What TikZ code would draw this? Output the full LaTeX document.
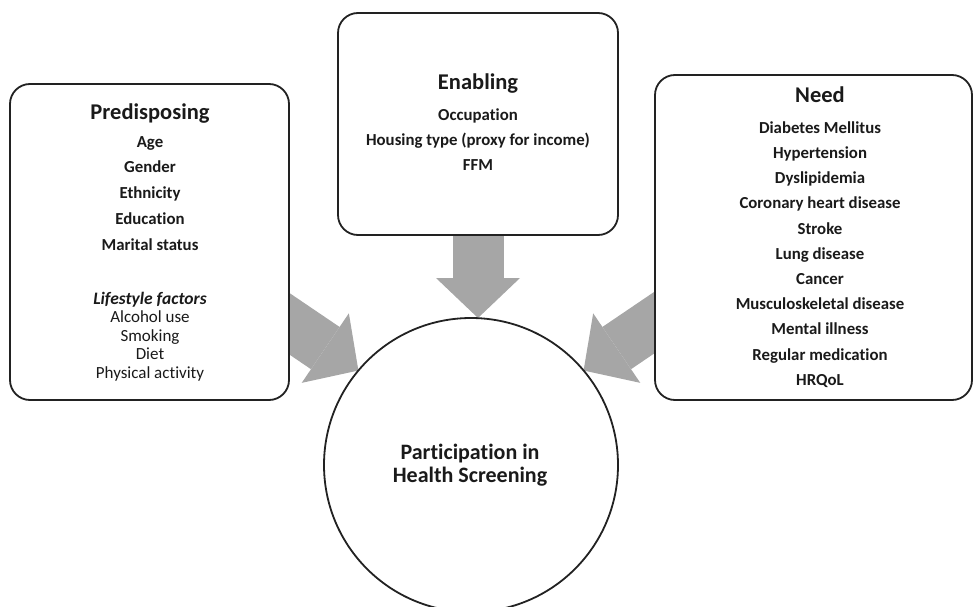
\documentclass[tikz,border=0pt]{standalone}
\usepackage{fontspec}
\setmainfont{Carlito}[Ligatures=NoCommon]
\usetikzlibrary{arrows.meta,backgrounds}
\definecolor{boxline}{HTML}{222222}
\definecolor{arrowgray}{HTML}{A6A6A6}
\definecolor{txt}{HTML}{1A1A1A}
\begin{document}
\begin{tikzpicture}[x=1pt,y=-1pt,
  box/.style={draw=boxline, line width=1.8pt, fill=white, rounded corners=20pt, inner sep=0pt, outer sep=0pt},
  circbox/.style={draw=boxline, line width=1.8pt, fill=white, circle, inner sep=0pt, outer sep=0pt},
  title/.style={anchor=base, inner sep=0pt, font=\fontsize{22.5}{26}\selectfont\bfseries, text=txt},
  item/.style={anchor=base, inner sep=0pt, font=\fontsize{16.8}{20}\selectfont\bfseries, text=txt},
  litem/.style={anchor=base, inner sep=0pt, font=\fontsize{17}{20}\selectfont, text=txt},
  ctext/.style={anchor=base, inner sep=0pt, font=\fontsize{22}{26}\selectfont\bfseries, text=txt},
  bigarrow/.style={line width=51pt, draw=arrowgray, -{Triangle[width=84pt,length=40pt,line width=0pt]}},
]
\useasboundingbox (0,0) rectangle (974,607);

% boxes
\node[box, minimum width=279pt, minimum height=316pt] (pre) at (149.5,242) {};
\node[box, minimum width=280pt, minimum height=222pt] (ena) at (478,124) {};
\node[box, minimum width=317pt, minimum height=325pt] (need) at (813.5,237.5) {};
\node[circbox, minimum size=294pt] (circ) at (471,465) {};

% arrows (behind)
\coordinate (lstart) at (240,290.3);
\coordinate (rstart) at (702,290.3);
\begin{pgfonlayer}{background}
  \draw[bigarrow] (lstart) -- (circ.140);
  \draw[bigarrow] (rstart) -- (circ.40);
  \draw[bigarrow] ([yshift=5pt]ena.south) -- (ena.south |- circ.north);
\end{pgfonlayer}

% predisposing text
\node[title] (pretitle) at (150,120) {Predisposing};
\foreach \t/\y [count=\i] in {Age/147, Gender/172.7, Ethnicity/198.5, Education/224.2, Marital status/250}
  \node[item] (preitem\i) at (150,\y) {\t};
\node[item, font=\fontsize{17.5}{20}\selectfont\bfseries\itshape] (lifetitle) at (150,304) {Lifestyle factors};
\foreach \t/\y [count=\i] in {Alcohol use/322.7, Smoking/341.5, Diet/359.5, Physical activity/378}
  \node[litem] (lifeitem\i) at (150,\y) {\t};

% enabling text
\node[title] (enatitle) at (478,90) {Enabling};
\foreach \t/\y [count=\i] in {Occupation/120.7, Housing type (proxy for income)/146, FFM/170.7}
  \node[item] (enaitem\i) at (478,\y) {\t};

% need text
\node[title] (needtitle) at (820,103) {Need};
\foreach \t [count=\i] in {Diabetes Mellitus, Hypertension, Dyslipidemia, Coronary heart disease, Stroke, Lung disease, Cancer, Musculoskeletal disease, Mental illness, Regular medication, HRQoL}
  \node[item] (needitem\i) at (820,{133.3+25.2*(\i-1)}) {\t};

% circle text
\node[ctext] (ct1) at (470,459) {Participation in};
\node[ctext] (ct2) at (470,482.7) {Health Screening};
\end{tikzpicture}
\end{document}
